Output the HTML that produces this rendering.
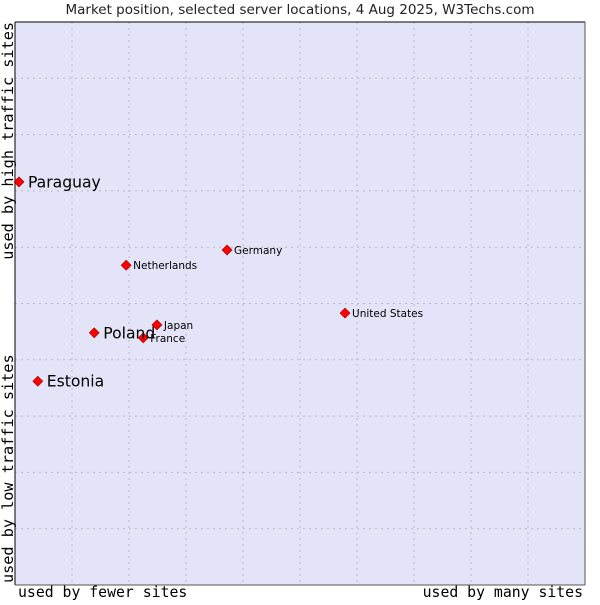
<!DOCTYPE html>
<html><head><meta charset="utf-8"><style>
body{margin:0;background:#fff;}
svg text{font-family:"DejaVu Sans","Liberation Sans",sans-serif;}
</style></head><body>
<svg id="chart" width="600" height="600" xmlns="http://www.w3.org/2000/svg">
<text x="300" y="14" font-size="13.5" text-anchor="middle" fill="#222">Market position, selected server locations, 4 Aug 2025, W3Techs.com</text>
<rect x="15" y="22" width="570" height="563" fill="#e4e4f8" stroke="none"/>
<g id="grid"></g>
<line x1="15" y1="22" x2="585" y2="22" stroke="#000"/>
<line x1="15" y1="22" x2="15" y2="585" stroke="#000"/>
<line x1="585" y1="22" x2="585" y2="585" stroke="#555"/>
<line x1="15" y1="585" x2="585" y2="585" stroke="#555"/>
<g id="points"></g>
<text x="18" y="597" font-size="14.8" style="font-family:'DejaVu Sans Mono','Liberation Mono',monospace">used by fewer sites</text>
<text x="583" y="597" font-size="14.8" text-anchor="end" style="font-family:'DejaVu Sans Mono','Liberation Mono',monospace">used by many sites</text>
<text transform="translate(13,22) rotate(-90)" x="0" y="0" font-size="15.2" text-anchor="end" style="font-family:'DejaVu Sans Mono','Liberation Mono',monospace">used by high traffic sites</text>
<text transform="translate(13,583) rotate(-90)" x="0" y="0" font-size="15.2" style="font-family:'DejaVu Sans Mono','Liberation Mono',monospace">used by low traffic sites</text>
</svg>
<script>
const countries=["Paraguay","Netherlands","Germany","United States","Japan","France","Poland","Estonia"];
const xValues=[0.7,19.5,37.2,57.9,24.9,22.5,13.9,4.0];
const yValues=[71.6,56.8,59.5,48.3,46.2,43.9,44.8,36.2];
const highlighted=[true,false,false,false,false,false,true,true];
const X0=15,X1=585,Y0=585,Y1=22;
const sx=v=>X0+v/100*(X1-X0);
const sy=v=>Y0-v/100*(Y0-Y1);
const NS="http://www.w3.org/2000/svg";
const grid=document.getElementById('grid');
for(let i=1;i<10;i++){
 const l=document.createElementNS(NS,'line');
 
 
 const x=X0+i*(X1-X0)/10;
 l.setAttribute('x1',x);l.setAttribute('x2',x);l.setAttribute('y1',Y1);l.setAttribute('y2',Y0);
 l.setAttribute('stroke','#bbb');l.setAttribute('stroke-dasharray','2,4');
 grid.appendChild(l);
 const h=document.createElementNS(NS,'line');
 
 
 const y=Y1+i*(Y0-Y1)/10;
 h.setAttribute('x1',X0);h.setAttribute('x2',X1);h.setAttribute('y1',y);h.setAttribute('y2',y);
 h.setAttribute('stroke','#bbb');h.setAttribute('stroke-dasharray','2,4');
 grid.appendChild(h);
}
const pts=document.getElementById('points');
countries.forEach((c,i)=>{
 const x=sx(xValues[i]),y=sy(yValues[i]);
 const m=document.createElementNS(NS,'path');
 
 
 m.setAttribute('d',`M${x} ${y-5}L${x+5} ${y}L${x} ${y+5}L${x-5} ${y}Z`);
 m.setAttribute('fill','#f00');m.setAttribute('stroke','#900');m.setAttribute('stroke-width','0.6');
 pts.appendChild(m);
 const t=document.createElementNS(NS,'text');
 
 
 const big=highlighted[i];
 t.setAttribute('x',x+(big?9:7));
 t.setAttribute('y',y+(big?5.5:4));
 t.setAttribute('font-size',big?15.6:10.5);
 t.setAttribute('fill','#000');
 t.textContent=c;
 pts.appendChild(t);
});
</script>
</body></html>
